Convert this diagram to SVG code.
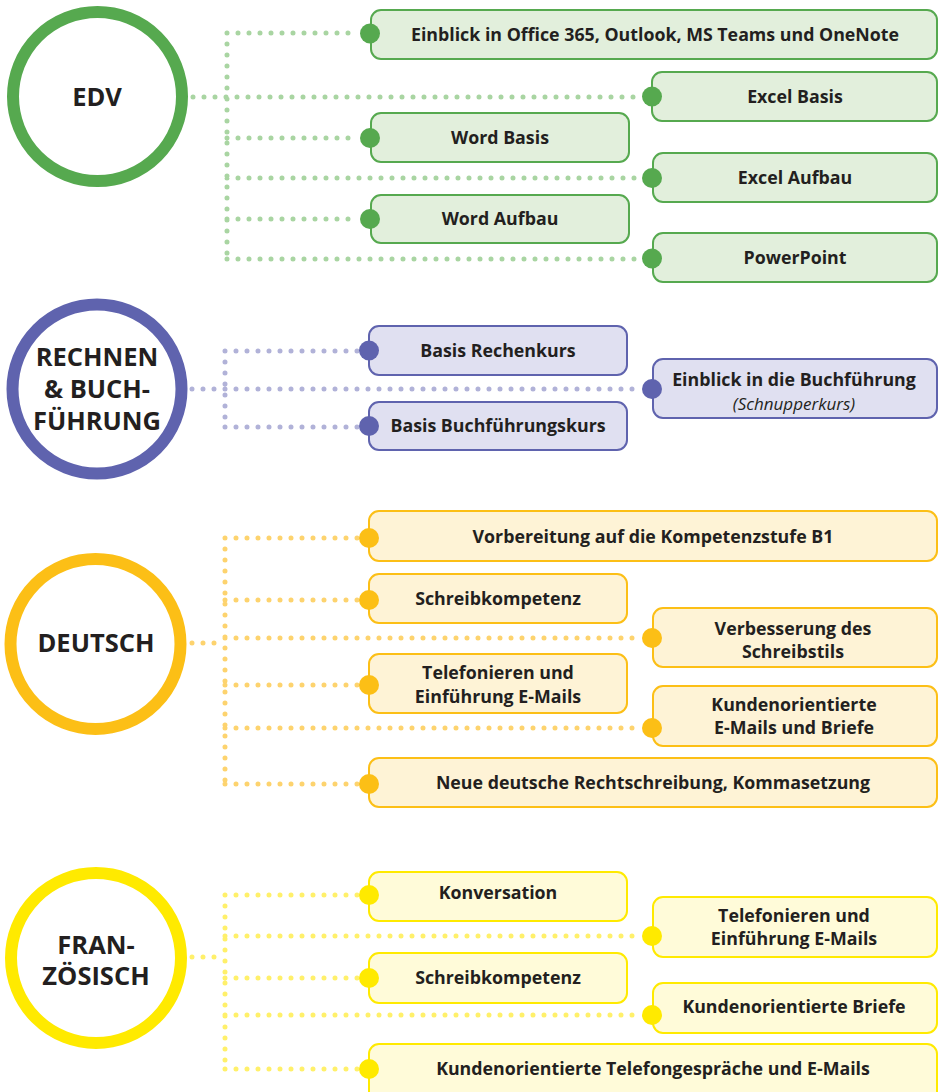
<svg xmlns="http://www.w3.org/2000/svg" width="941" height="1092" viewBox="0 0 941 1092">
<style>
text{font-family:"Open Sans","Noto Sans","Liberation Sans",sans-serif;font-weight:bold;fill:#231f20;text-anchor:middle}
.t{font-size:17.8px}
.h{font-size:25.5px}
.i{font-style:italic;font-weight:normal;font-size:17px}
.ring{fill:#fff;stroke-width:12}
.box{stroke-width:2}
.dl{fill:none;stroke-width:5;stroke-linecap:round;stroke-dasharray:0 11}
.g .box{fill:#e2efdc;stroke:#56a94f}.g .end{fill:#56a94f}.g .ring{stroke:#56a94f}
.p .box{fill:#e0e0f1;stroke:#5f63ae}.p .end{fill:#5f63ae}.p .ring{stroke:#5f63ae}
.o .box{fill:#fef3d6;stroke:#fcbf16}.o .end{fill:#fcbf16}.o .ring{stroke:#fcbf16}
.y .box{fill:#fffbd9;stroke:#ffea00}.y .end{fill:#ffea00}.y .ring{stroke:#ffea00}
.dg{stroke:#a9d5a2}.dp{stroke:#b1b2d8}.do{stroke:#fdd36e}.dy{stroke:#fff06a}
</style>
<g id="connectors">
<path class="dl dg" d="M193 97H642M227 33V259M227 33H358M227 138H358M227 178H642M227 219H358M227 259H642"/>
<path class="dl dp" d="M192 389H642M225 351V427M225 351H358M225 427H358"/>
<path class="dl do" d="M192 643H225M225 538V784M225 538H358M225 600H358M225 638H642M225 685H358M225 728H642M225 784H358"/>
<path class="dl dy" d="M192 957H225M225 895V1069M225 895H358M225 936H642M225 978H358M225 1015H642M225 1069H358"/>
</g>
<g id="edv" class="g"><circle class="ring" cx="97.5" cy="96.5" r="84.5"/><text class="h" x="97" y="106">EDV</text></g>
<g id="edv1" class="g"><rect class="box" x="371" y="10" width="566" height="49" rx="10"/><circle class="end" cx="370" cy="33.5" r="10"/><text class="t" x="655" y="40.5">Einblick in Office 365, Outlook, MS Teams und OneNote</text></g>
<g id="edv2" class="g"><rect class="box" x="652" y="72" width="285" height="49" rx="10"/><circle class="end" cx="652" cy="96.5" r="10"/><text class="t" x="795" y="102.5">Excel Basis</text></g>
<g id="edv3" class="g"><rect class="box" x="371" y="113" width="258" height="49" rx="10"/><circle class="end" cx="370" cy="138" r="10"/><text class="t" x="500" y="143.5">Word Basis</text></g>
<g id="edv4" class="g"><rect class="box" x="653" y="153" width="284" height="49" rx="10"/><circle class="end" cx="652" cy="178" r="10"/><text class="t" x="795" y="183.5">Excel Aufbau</text></g>
<g id="edv5" class="g"><rect class="box" x="371" y="195" width="258" height="48" rx="10"/><circle class="end" cx="370" cy="219" r="10"/><text class="t" x="500" y="225">Word Aufbau</text></g>
<g id="edv6" class="g"><rect class="box" x="653" y="233" width="284" height="49" rx="10"/><circle class="end" cx="652" cy="258.5" r="10"/><text class="t" x="795" y="263.5">PowerPoint</text></g>

<g id="rechnen" class="p"><circle class="ring" cx="97" cy="389" r="84.5"/><text class="h" x="97" y="366">RECHNEN</text><text class="h" x="97" y="398">&amp; BUCH-</text><text class="h" x="97" y="430">FÜHRUNG</text></g>
<g id="re1" class="p"><rect class="box" x="369" y="326" width="258" height="49" rx="10"/><circle class="end" cx="369" cy="350.5" r="10"/><text class="t" x="498" y="356.5">Basis Rechenkurs</text></g>
<g id="re2" class="p"><rect class="box" x="653" y="359" width="284" height="59" rx="10"/><circle class="end" cx="652" cy="389" r="10"/><text class="t" x="794" y="386">Einblick in die Buchführung</text><text class="i" x="794" y="409.5">(Schnupperkurs)</text></g>
<g id="re3" class="p"><rect class="box" x="369" y="402" width="258" height="48" rx="10"/><circle class="end" cx="369" cy="426" r="10"/><text class="t" x="498" y="432">Basis Buchführungskurs</text></g>

<g id="deutsch" class="o"><circle class="ring" cx="95.5" cy="644" r="85"/><text class="h" x="96" y="652">DEUTSCH</text></g>
<g id="de1" class="o"><rect class="box" x="369" y="511" width="568" height="50" rx="10"/><circle class="end" cx="369" cy="538" r="10"/><text class="t" x="653" y="543">Vorbereitung auf die Kompetenzstufe B1</text></g>
<g id="de2" class="o"><rect class="box" x="369" y="574" width="258" height="49" rx="10"/><circle class="end" cx="369" cy="600" r="10"/><text class="t" x="498" y="605">Schreibkompetenz</text></g>
<g id="de3" class="o"><rect class="box" x="653" y="608" width="284" height="59" rx="10"/><circle class="end" cx="652" cy="638" r="10"/><text class="t" x="793" y="635">Verbesserung des</text><text class="t" x="793" y="658">Schreibstils</text></g>
<g id="de4" class="o"><rect class="box" x="369" y="654" width="258" height="59" rx="10"/><circle class="end" cx="369" cy="685" r="10"/><text class="t" x="498" y="679">Telefonieren und</text><text class="t" x="498" y="703">Einführung E-Mails</text></g>
<g id="de5" class="o"><rect class="box" x="653" y="686" width="284" height="60" rx="10"/><circle class="end" cx="652" cy="728" r="10"/><text class="t" x="794" y="711">Kundenorientierte</text><text class="t" x="794" y="734">E-Mails und Briefe</text></g>
<g id="de6" class="o"><rect class="box" x="369" y="758" width="568" height="49" rx="10"/><circle class="end" cx="369" cy="784" r="10"/><text class="t" x="653" y="789">Neue deutsche Rechtschreibung, Kommasetzung</text></g>

<g id="franz" class="y"><circle class="ring" cx="96" cy="958" r="85"/><text class="h" x="96" y="954">FRAN-</text><text class="h" x="96" y="985">ZÖSISCH</text></g>
<g id="fr1" class="y"><rect class="box" x="369" y="872" width="258" height="49" rx="10"/><circle class="end" cx="369" cy="895" r="10"/><text class="t" x="498" y="899">Konversation</text></g>
<g id="fr2" class="y"><rect class="box" x="653" y="897" width="284" height="60" rx="10"/><circle class="end" cx="652" cy="936" r="10"/><text class="t" x="794" y="922">Telefonieren und</text><text class="t" x="794" y="945">Einführung E-Mails</text></g>
<g id="fr3" class="y"><rect class="box" x="369" y="953" width="258" height="50" rx="10"/><circle class="end" cx="369" cy="978" r="10"/><text class="t" x="498" y="984">Schreibkompetenz</text></g>
<g id="fr4" class="y"><rect class="box" x="653" y="983" width="284" height="50" rx="10"/><circle class="end" cx="652" cy="1015" r="10"/><text class="t" x="794" y="1013">Kundenorientierte Briefe</text></g>
<g id="fr5" class="y"><rect class="box" x="369" y="1044" width="568" height="60" rx="10"/><circle class="end" cx="369" cy="1069" r="10"/><text class="t" x="653" y="1075">Kundenorientierte Telefongespräche und E-Mails</text></g>
</svg>
